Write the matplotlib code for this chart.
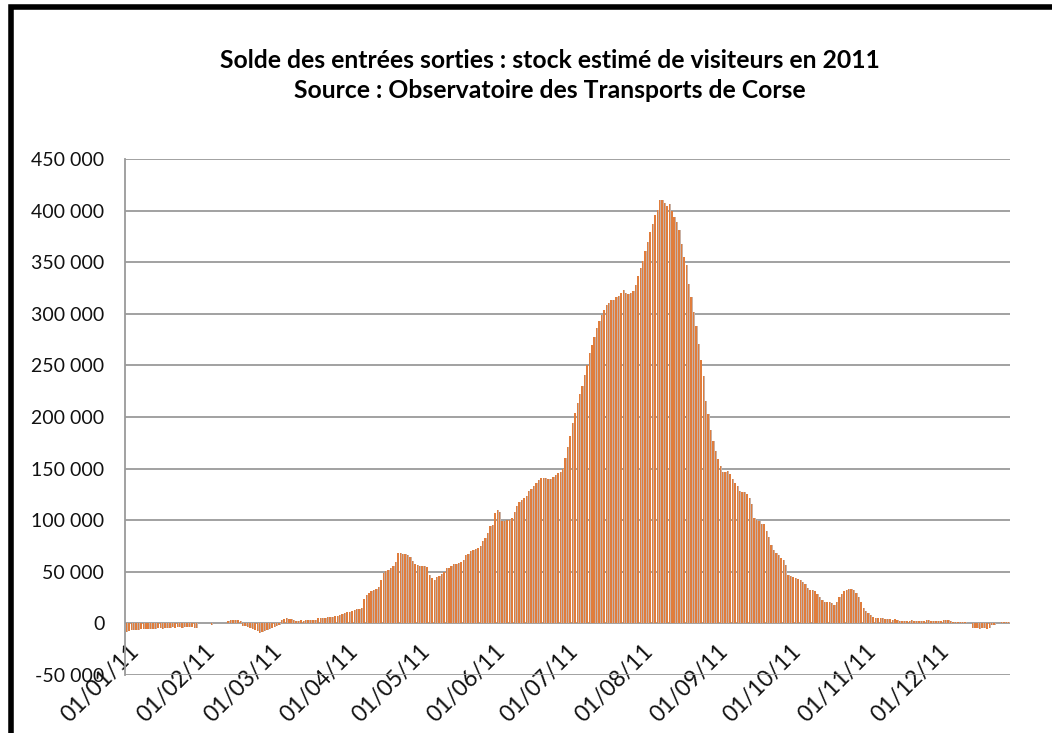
import matplotlib
matplotlib.use('Agg')
from matplotlib import pyplot as plt
from matplotlib.lines import Line2D
import numpy as np

# daily stock of visitors (thousands), one list per month
jan = [-8, -7, -6.5, -6, -6, -6, -5.5, -5.5, -5, -5, -5, -5.5, -5, -4.5, -4.5, -5,
       -4.5, -4, -4, -3.5, -4, -3.5, -3.5, -4, -3, -3, -3.5, -3, -4, -4, 0]
feb = [0, 0, 0, 0, -1.5, 0, 0, 0, 0, 0, 0, 2.5, 3, 3, 3, 3, 2.5,
       -2, -2.5, -3, -4, -5, -6, -7, -9, -8.5, -7, -6]
mar = [-5, -4, -3, -2, -1, 3, 4.5, 5, 4.5, 4, 3, 2.5, 2.5, 3, 2.5, 3, 3, 3, 3.5, 3,
       5, 5.5, 5, 5.5, 6, 6, 6.5, 7, 7, 8, 9]
apr = [10, 11, 11.5, 12, 13, 14, 14.5, 15, 24, 28, 30, 31, 32, 33, 35, 42, 49, 51,
       52, 54, 56, 60, 68, 68, 67, 67, 66, 64, 61, 58]
may = [57, 56, 56, 56, 55, 47, 44, 42, 45, 46, 48, 50, 54, 54, 56, 58, 58, 59, 60,
       62, 66, 67, 70, 71, 72, 73, 75, 80, 83, 88, 94]
jun = [95, 107, 110, 108, 99, 99, 100, 100, 102, 108, 114, 118, 120, 122, 124, 128,
       130, 133, 136, 139, 141, 141, 141, 140, 140, 142, 144, 146, 147, 150]
jul = [160, 171, 182, 194, 204, 214, 222, 230, 241, 250, 262, 270, 278, 286, 293,
       299, 304, 309, 311, 313, 313, 316, 317, 320, 323, 320, 319, 320, 322, 328, 337]
aug = [344, 351, 361, 370, 379, 387, 396, 401, 410, 410, 407, 405, 406, 400, 394,
       389, 381, 368, 355, 347, 329, 316, 302, 288, 271, 255, 240, 216, 203, 187, 177]
sep = [167, 159, 153, 147, 147, 148, 145, 140, 136, 133, 128, 127, 127, 125, 122,
       116, 102, 100, 99, 96, 96, 90, 84, 76, 71, 68, 66, 63, 62, 57]
oct_ = [47, 46, 45, 44, 43, 42, 40, 38, 34, 32, 32, 31, 29, 26, 23, 21, 21, 21, 20,
        18, 21, 26, 29, 31, 32, 33, 33, 32, 30, 26, 21]
nov = [15, 12, 10, 8, 6.5, 5, 5, 5, 5, 4.5, 4.5, 4, 3, 4.5, 3, 2, 2, 2, 2, 2, 3, 2,
       2, 2, 2, 2, 3, 3, 2, 2]
dec = [2, 2, 2, 3, 3, 3, 2, 1.5, 1.5, 1.5, 1.5, 1.5, 1.5, 0, 0, -4, -4.5, -4.5, -5,
       -4.5, -4.5, -5, -4.5, -1.5, -1.5, 0, 0, 1.5, 1.5, 1.5, 1.5]

months = [jan, feb, mar, apr, may, jun, jul, aug, sep, oct_, nov, dec]
month_labels = ['01/01/11', '01/02/11', '01/03/11', '01/04/11', '01/05/11', '01/06/11',
                '01/07/11', '01/08/11', '01/09/11', '01/10/11', '01/11/11', '01/12/11']
y_ticks = [-50000, 0, 50000, 100000, 150000, 200000, 250000, 300000, 350000, 400000, 450000]

stock = np.array([v for m in months for v in m]) * 1000
days = np.arange(len(stock))
month_starts = np.cumsum([0] + [len(m) for m in months[:-1]])

fig = plt.figure(figsize=(10.52, 7.33), dpi=100)
ax = fig.add_axes([0.119, 0.079, 0.841, 0.704])

# grey shadow behind each bar, then the orange bar
ax.bar(days + 0.35, stock, width=0.55, color='#c9b2a6', linewidth=0, zorder=2)
ax.bar(days, stock, width=0.6, color='#e07d3c', linewidth=0, zorder=3)

ax.set_xlim(-0.5, len(stock) - 0.5)
ax.set_ylim(-50000, 450000)
ax.spines['bottom'].set_position(('data', 0))
ax.spines['bottom'].set_visible(False)
ax.spines['top'].set_visible(False)
ax.spines['right'].set_visible(False)
ax.spines['left'].set_color('#9a9a9a')
ax.spines['left'].set_linewidth(1.3)

ax.set_yticks(y_ticks)
ax.set_yticklabels([f'{v:,}'.replace(',', ' ') for v in y_ticks], fontsize=14,
                   family='Lato')
ax.yaxis.grid(True, color='#9a9a9a', linewidth=1.3, zorder=1)
ax.set_axisbelow(True)

ax.set_xticks(month_starts + 1)
ax.set_xticklabels(month_labels, rotation=45, ha='right', rotation_mode='anchor',
                   fontsize=16.5, family='Lato')
ax.tick_params(axis='both', length=0, colors='#111111')
ax.tick_params(axis='y', pad=15)
ax.tick_params(axis='x', pad=12)

fig.text(0.523, 0.918, 'Solde des entrées sorties : stock estimé de visiteurs en 2011',
         ha='center', va='center', fontsize=17.8, fontweight='bold', family='Lato')
fig.text(0.523, 0.876, 'Source : Observatoire des Transports de Corse',
         ha='center', va='center', fontsize=17.8, fontweight='bold', family='Lato')

# black frame on the left and top
x0 = 10.5 / 1052
y0 = 1 - 7 / 733
fig.add_artist(Line2D([x0, x0, 1], [0, y0, y0], color='black', linewidth=4,
                      transform=fig.transFigure, solid_joinstyle='miter'))

plt.savefig('out.png', dpi=100)
